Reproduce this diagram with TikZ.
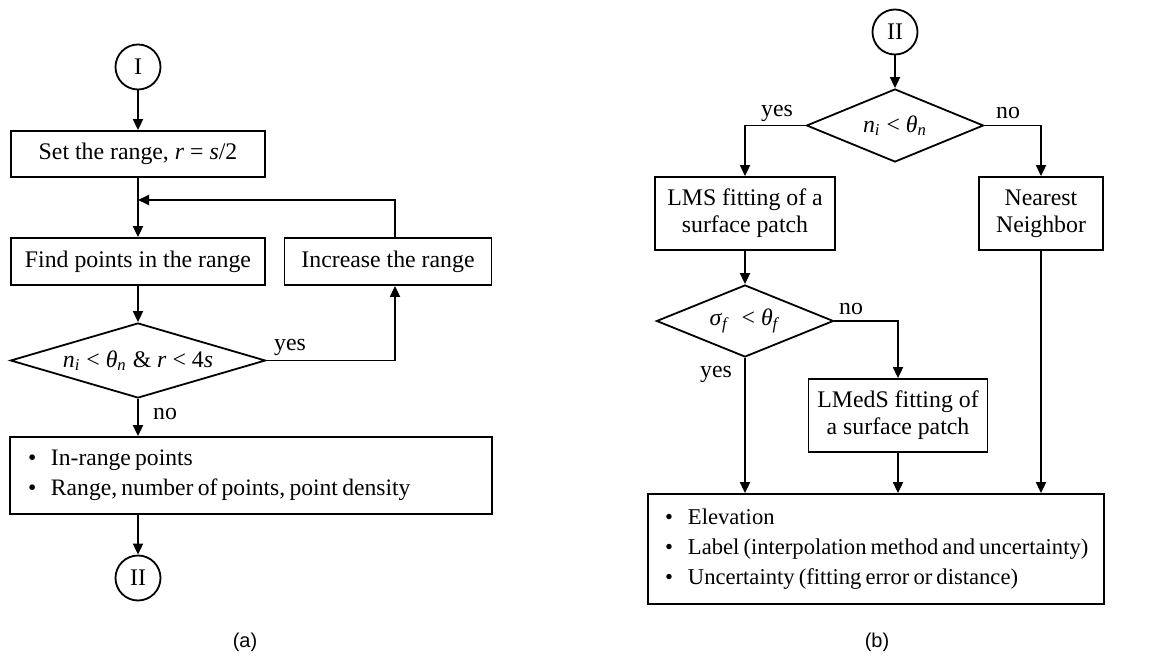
\documentclass[tikz,border=0pt]{standalone}
\usepackage{fontspec}
\setmainfont{Liberation Serif}
\newfontfamily\capfont{Liberation Sans}
\usetikzlibrary{shapes.geometric,arrows.meta}
\newcommand\lowidx[1]{\textsubscript{\textit{#1}}}
\newcommand\itemline[1]{\mbox{\makebox[11.5pt][l]{\textbullet}#1}}
\newcommand\tightwords{\spaceskip=0.18em\relax}

\tikzset{
  box/.style={draw, line width=0.9pt, align=center, inner sep=0pt,
    font=\fontsize{11.9}{13.5}\selectfont},
  listbox/.style={box, align=left},
  term/.style={draw, circle, line width=0.9pt, minimum size=22.5pt, inner sep=0pt,
    font=\fontsize{11.9}{13.5}\selectfont},
  test/.style={draw, diamond, line width=0.9pt, inner sep=0pt,
    font=\fontsize{11.9}{13.5}\selectfont},
  flow/.style={line width=0.9pt, -{Triangle[length=5.5pt,width=5pt]}},
  lbl/.style={inner sep=0pt, font=\fontsize{11.9}{13.5}\selectfont},
  subcap/.style={inner sep=0pt, font=\capfont\fontsize{10}{12}\selectfont}
}

\begin{document}
\begin{tikzpicture}[x=0.5pt, y=-0.5pt]
\useasboundingbox (0,0) rectangle (1155,657);

% (a) range search
\node[term] (i1) at (138,67) {I};
\node[box, minimum width=127pt, minimum height=23pt] (set) at (138,154) {Set the range, \textit{r} = \textit{s}/2};
\node[box, minimum width=127pt, minimum height=23.5pt] (find) at (138,261.5) {Find points in the range};
\node[box, minimum width=103.5pt, minimum height=23.5pt] (inc) at (388,261.5) {Increase the range};
\node[test, aspect=3.4, minimum width=127.5pt, minimum height=37.5pt] (chk) at (138,360.5)
  {\textit{n}\lowidx{i} < \textit{θ}\lowidx{n} \& \textit{r} < 4\textit{s}};
\node[listbox, minimum width=241pt, minimum height=38.5pt, text width=223pt,
  font=\fontsize{11.8}{14.8}\selectfont] (out1) at (251,475.5)
  {\tightwords\itemline{In-range points}\\ \itemline{Range, number of points, point density}};
\node[term] (i2) at (138,578) {II};
\coordinate (join) at (138,200);
\coordinate (back) at (395,200);

\draw[flow] (i1) -- (set);
\draw[flow] (set) -- (find);
\draw[flow] (inc.north -| back) |- (join);
\draw[flow] (find) -- (chk);
\draw[flow] (chk.east) -| (inc.south -| back);
\draw[flow] (chk.south) -- (chk.south |- out1.north);
\draw[flow] (out1.south -| i2) -- (i2);

\node[lbl] (yes1) at (290,347) {yes};
\node[lbl] (no1) at (165,414) {no};
\node[subcap] (capa) at (245,642) {(a)};

% (b) interpolation
\node[term] (i3) at (895,32) {II};
\node[test, aspect=2.4, minimum width=88.5pt, minimum height=36.5pt] (chk2) at (895,125.5)
  {\textit{n}\lowidx{i} < \textit{θ}\lowidx{n}};
\node[box, minimum width=90pt, minimum height=36.5pt] (lms) at (745,213.5) {LMS fitting of a\\surface patch};
\node[box, minimum width=62pt, minimum height=36.5pt] (nn) at (1041,213.5) {Nearest\\Neighbor};
\node[test, aspect=2.4, minimum width=88.5pt, minimum height=36pt] (chk3) at (745,321)
  {\textit{σ}\lowidx{f}~ < \textit{θ}\lowidx{f}};
\node[box, minimum width=89.5pt, minimum height=36.5pt] (lmeds) at (898,415.5) {LMedS fitting of\\a surface patch};
\node[listbox, minimum width=228pt, minimum height=55pt, text width=211pt,
  font=\fontsize{11.3}{14.8}\selectfont] (out2) at (876,549)
  {\tightwords\itemline{Elevation}\\ \itemline{Label (interpolation method and uncertainty)}\\ \itemline{Uncertainty (fitting error or distance)}};

\draw[flow] (i3) -- (chk2);
\draw[flow] (chk2.west) -| (lms);
\draw[flow] (chk2.east) -| (nn);
\draw[flow] (lms) -- (chk3);
\draw[flow] (chk3.east) -| (lmeds);
\draw[flow] (chk3.south) -- (chk3.south |- out2.north);
\draw[flow] (lmeds) -- (lmeds |- out2.north);
\draw[flow] (nn) -- (nn |- out2.north);

\node[lbl] (yes2) at (777,113) {yes};
\node[lbl] (no2) at (1008,113) {no};
\node[lbl] (no3) at (851,309) {no};
\node[lbl] (yes3) at (716,374) {yes};
\node[subcap] (capb) at (877,642) {(b)};
\end{tikzpicture}
\end{document}
